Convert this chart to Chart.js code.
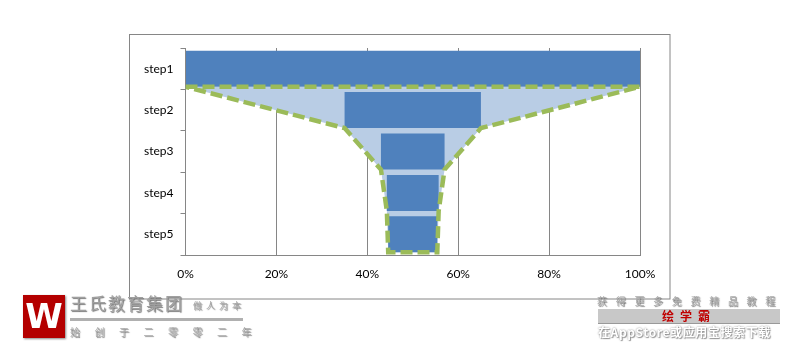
<!DOCTYPE html>
<html>
<head>
<meta charset="utf-8">
<script src="https://cdn.jsdelivr.net/npm/chart.js@4/dist/chart.umd.min.js"></script>
<style>
  html, body { margin: 0; padding: 0; background: #fff; }
  #wrap { position: relative; width: 800px; height: 352px; overflow: hidden; }
  canvas { position: absolute; left: 0; top: 0; }
  .wm { position: absolute; font-family: "Noto Sans CJK SC", sans-serif; white-space: nowrap; }
</style>
</head>
<body>
<div id="wrap">
  <canvas id="c" width="800" height="352"></canvas>
  <!-- left watermark -->
  <div class="wm" style="left:23px;top:295px;width:42px;height:43px;background:#b40000;box-shadow:1px 1px 2px #888;color:#fff;font:bold 34px 'DejaVu Sans',sans-serif;line-height:43px;text-align:center;">W</div>
  <div class="wm" style="left:70px;top:293px;font-size:17px;line-height:19px;color:#a0a0a0;text-shadow:1px 1px 1px #777;letter-spacing:2px;">王氏教育集团</div>
  <div class="wm" style="left:193px;top:300px;font-size:9px;line-height:12px;color:#a8a8a8;text-shadow:1px 1px 1px #888;letter-spacing:4px;">做人为本</div>
  <div class="wm" style="left:70px;top:318px;width:173px;height:3px;background:#b0b0b0;"></div>
  <div class="wm" style="left:70px;top:325px;font-size:10px;line-height:13px;color:#a8a8a8;text-shadow:1px 1px 1px #777;letter-spacing:14.5px;">始创于二零零二年</div>
  <!-- right watermark -->
  <div class="wm" style="left:597px;top:294px;font-size:10px;line-height:13px;color:#aaa;text-shadow:1px 1px 1px #777;letter-spacing:8.7px;">获得更多免费精品教程</div>
  <div class="wm" style="left:598px;top:309px;width:182px;height:14px;background:#c8c8c8;border-bottom:1px solid #999;text-align:center;color:#c00000;font-size:12px;line-height:14px;font-weight:bold;letter-spacing:6px;">绘学霸</div>
  <div class="wm" style="left:598px;top:325px;font-size:12px;line-height:14px;color:#fff;font-weight:bold;text-shadow:0 0 2px #888,1px 1px 1px #999;letter-spacing:0.6px;">在AppStore或应用宝搜索下载</div>
</div>
<script>
// ---- data ----
const categories = ['step1', 'step2', 'step3', 'step4', 'step5'];
const barStarts = [0, 35, 43, 44.3, 44.6];
const barEnds = [100, 65, 57, 55.7, 55.4];
const xTickValues = [0, 20, 40, 60, 80, 100];

// ---- derived ----
const BAR_PCT = 0.87;
const half = BAR_PCT / 2;
const floating = barStarts.map((s, i) => [s, barEnds[i]]);
// funnel outline through the bottom corners of each bar
const outline = [];
outline.push({ x: barStarts[0], y: half });
for (let i = 0; i < categories.length; i++) outline.push({ x: barEnds[i], y: i + half });
for (let i = categories.length - 1; i >= 0; i--) outline.push({ x: barStarts[i], y: i + half });

const gray = '#868686';
const font = { family: 'Lato, "Liberation Sans", sans-serif', size: 12 };

const framePlugin = {
  id: 'frame',
  beforeDraw(chart) {
    const ctx = chart.ctx;
    ctx.save();
    ctx.fillStyle = '#fff';
    ctx.fillRect(0, 0, chart.width, chart.height);
    ctx.strokeStyle = gray;
    ctx.lineWidth = 1;
    ctx.strokeRect(129.5, 34.5, 540.5, 264.5);
    ctx.restore();
  }
};

new Chart(document.getElementById('c'), {
  type: 'bar',
  data: {
    labels: categories,
    datasets: [
      {
        type: 'line',
        data: outline,
        yAxisID: 'y2',
        xAxisID: 'x',
        order: 0,
        borderColor: '#9BBB59',
        borderWidth: 4.5,
        borderDash: [12, 5],
        borderJoinStyle: 'miter',
        borderCapStyle: 'butt',
        backgroundColor: '#B9CDE5',
        fill: 'shape',
        pointRadius: 0,
        tension: 0
      },
      {
        data: floating,
        yAxisID: 'y',
        order: 1,
        grouped: false,
        backgroundColor: '#4F81BD',
        borderWidth: 0,
        barPercentage: BAR_PCT,
        categoryPercentage: 1
      }
    ]
  },
  options: {
    indexAxis: 'y',
    responsive: false,
    animation: false,
    events: [],
    layout: { padding: { left: 130, right: 160, top: 48, bottom: 67 } },
    plugins: {
      legend: { display: false },
      tooltip: { enabled: false },
      filler: { drawTime: 'beforeDatasetsDraw' }
    },
    scales: {
      x: {
        type: 'linear',
        min: 0, max: 100,
        offset: false,
        afterBuildTicks(scale) { scale.ticks = xTickValues.map(v => ({ value: v })); },
        ticks: { callback: v => v + '%', font, color: '#000', padding: 12, maxRotation: 0 },
        grid: { color: gray, drawTicks: false, lineWidth: 1 },
        border: { color: gray },
        afterFit(scale) { scale.height = 30; }
      },
      y: {
        type: 'category',
        offset: true,
        ticks: { font, color: '#000', padding: 7 },
        grid: { drawOnChartArea: false, color: gray, tickLength: 5, offset: true },
        border: { color: gray },
        afterFit(scale) { scale.width = 55.5; }
      },
      y2: {
        type: 'linear',
        display: false,
        offset: false,
        min: -0.5, max: 4.5,
        reverse: true
      }
    }
  },
  plugins: [framePlugin]
});
</script>
</body>
</html>
